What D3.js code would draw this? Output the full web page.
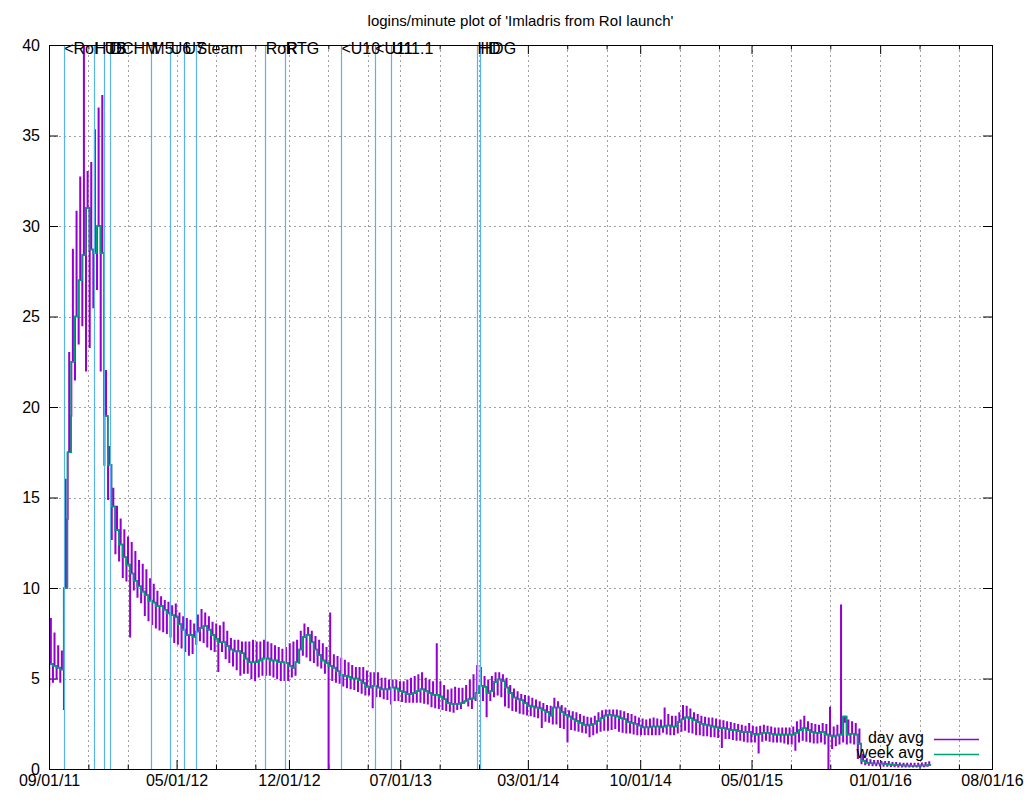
<!DOCTYPE html>
<html>
<head>
<meta charset="utf-8">
<script src="https://cdn.jsdelivr.net/npm/d3@7/dist/d3.min.js"></script>
<style>
  html, body { margin: 0; padding: 0; background: #fff; }
  svg { display: block; font-family: "Liberation Sans", Arial, sans-serif; }
</style>
</head>
<body>
<svg id="chart" width="1024" height="800"></svg>
<script>
// Weekly buckets, counted from the first day of the series
const seriesStart = '2011-09-01';

// week avg (one value per week)
const weekAvg = [
  5.8, 5.7, 5.6, 5.5, 10, 17.5, 22.5, 25, 27, 28.4,
  31, 28.7, 28.5, 30, 28.5, 19.5, 16.8, 14.5, 13.2, 12.4,
  11.7, 11.3, 10.8, 10.4, 10.1, 9.8, 9.6, 9.3, 9.2, 9.0,
  9.0, 8.8, 8.6, 8.5, 8.4, 8.0, 7.7, 7.4, 7.4, 7.3,
  7.6, 7.8, 7.9, 7.7, 7.4, 7.2, 7.0, 7.0, 6.8, 6.6,
  6.5, 6.5, 6.4, 6.1, 5.9, 5.9, 5.9, 6.0, 6.1, 6.1,
  6.0, 6.0, 5.9, 5.9, 5.85, 5.7, 5.6, 5.9, 6.6, 7.3,
  7.4, 7.0, 6.6, 6.3, 6.0, 5.85, 5.7, 5.6, 5.4, 5.2,
  5.15, 5.1, 5.0, 5.0, 4.9, 4.75, 4.55, 4.5, 4.6, 4.5,
  4.4, 4.4, 4.4, 4.5, 4.45, 4.3, 4.25, 4.15, 4.15, 4.2,
  4.3, 4.4, 4.3, 4.2, 4.1, 4.1, 4.0, 3.85, 3.65, 3.6,
  3.6, 3.6, 3.65, 3.75, 3.85, 3.9, 4.2, 4.6, 4.55, 4.2,
  4.3, 4.8, 4.95, 4.85, 4.5, 4.2, 3.95, 3.85, 3.8, 3.65,
  3.5, 3.45, 3.4, 3.35, 3.25, 3.15, 2.95, 3.4, 3.4, 3.15,
  3.0, 2.9, 2.75, 2.65, 2.55, 2.45, 2.4, 2.45, 2.5, 2.65,
  2.8, 2.95, 3.0, 2.95, 2.9, 2.8, 2.75, 2.6, 2.55, 2.5,
  2.4, 2.3, 2.3, 2.3, 2.35, 2.35, 2.3, 2.35, 2.4, 2.35,
  2.35, 2.6, 2.75, 2.85, 2.8, 2.7, 2.6, 2.5, 2.45, 2.4,
  2.35, 2.3, 2.25, 2.25, 2.2, 2.15, 2.15, 2.1, 2.05, 2.05,
  2.05, 1.95, 1.9, 1.95, 2.0, 2.0, 1.95, 1.9, 1.9, 1.9,
  1.9, 1.9, 1.9, 2.0, 2.15, 2.25, 2.15, 2.05, 2.0, 2.0,
  2.05, 1.9, 1.85, 1.8, 1.85, 1.9, 2.9, 1.9, 1.95, 1.9,
  1.4, 0.45, 0.35, 0.32, 0.3, 0.3, 0.3, 0.28, 0.25, 0.24,
  0.22, 0.21, 0.2, 0.19, 0.18, 0.18, 0.18, 0.19, 0.2, 0.22
];

// day avg: highest and lowest daily value seen in each week
const dayHigh = [
  8.3, 7.5, 6.8, 6.5, 16, 23, 28.7, 30.8, 32.7, 41,
  33, 33.5, 35.3, 36.5, 37.2, 22, 17.8, 15.5, 14.5, 13.8,
  13.2, 12.8, 12.5, 12.0, 11.5, 11.3, 11.0, 10.5, 10.2, 9.8,
  9.5, 9.3, 9.2, 9.0, 9.1, 8.6, 8.4, 8.3, 8.2, 8.0,
  8.5, 8.8, 8.6, 8.4, 8.1, 8.0, 7.9, 8.1, 7.6, 7.2,
  7.1, 7.1, 7.0, 7.0, 7.0, 7.1, 7.0, 7.0, 7.1, 7.0,
  6.9, 6.8, 6.7, 6.6, 6.7, 6.9, 7.0, 7.1, 7.6, 8.0,
  7.8, 7.6, 7.3, 7.1, 6.9, 6.7, 8.6, 6.3, 6.2, 6.1,
  6.0, 5.85, 5.7, 5.6, 5.6, 5.6, 5.4, 5.3, 5.3, 5.3,
  5.0, 5.0, 4.9, 4.9, 4.9, 4.8, 4.8, 4.9, 5.0, 5.1,
  5.2, 5.3, 5.0, 4.9, 4.8, 6.9, 4.8, 4.6, 4.35, 4.4,
  4.5, 4.45, 4.45, 4.6, 4.9, 5.2, 5.7, 5.6, 5.1, 4.9,
  5.1, 5.3, 5.3, 5.2, 5.0, 4.6, 4.4, 4.25, 4.1, 4.05,
  4.0, 3.9, 3.8, 3.7, 3.6, 3.5, 3.45, 3.9, 3.7, 3.5,
  3.35, 3.2, 3.15, 3.1, 3.0, 2.9, 2.85, 2.8, 2.9, 3.1,
  3.2, 3.25, 3.25, 3.25, 3.25, 3.2, 3.15, 3.05, 3.0, 2.9,
  2.8, 2.75, 2.7, 2.75, 2.8, 2.75, 2.7, 3.35, 3.0, 2.9,
  2.9, 3.1, 3.5, 3.45, 3.3, 3.1, 3.0, 2.9, 2.85, 2.8,
  2.8, 2.75, 2.7, 2.65, 2.6, 2.55, 2.5, 2.45, 2.4, 2.35,
  2.5, 2.35, 2.3, 2.35, 2.4, 2.35, 2.3, 2.25, 2.25, 2.25,
  2.25, 2.25, 2.3, 2.6, 2.7, 2.9, 2.6, 2.5, 2.45, 2.4,
  2.5, 2.45, 3.4, 2.3, 2.4, 9.05, 2.6, 2.7, 2.6, 2.5,
  2.2, 0.8, 0.55, 0.5, 0.45, 0.45, 0.4, 0.4, 0.4, 0.35,
  0.35, 0.32, 0.3, 0.3, 0.3, 0.3, 0.3, 0.32, 0.35, 0.38
];

const dayLow = [
  4.6, 4.8, 5.0, 4.8, 3.3, 13.8, 19.5, 21.5, 23.5, 24.5,
  22, 23.3, 25.5, 26.5, 22, 16.8, 14.9, 12.7, 11.9, 11.5,
  10.6, 10.4, 7.3, 9.9, 9.5, 9.2, 8.5, 8.2, 8.0, 7.8,
  7.7, 7.6, 7.5, 7.3, 7.0, 6.9, 6.7, 6.5, 6.3, 6.4,
  6.9, 7.1, 7.0, 6.75, 6.6, 6.5, 5.4, 6.5, 6.1, 5.9,
  5.7, 5.5, 5.2, 5.3, 5.3, 5.0, 4.9, 5.1, 5.2, 5.2,
  5.2, 5.1, 5.0, 4.9, 4.9, 4.9, 5.1, 5.2, 5.85, 6.3,
  6.2, 6.0, 5.9, 5.7, 5.6, 5.3, 0, 4.9, 4.8, 4.75,
  4.6, 4.5, 4.45, 4.4, 4.3, 4.2, 4.1, 4.1, 3.4, 4.0,
  4.0, 3.9, 3.85, 3.6, 3.8, 3.8, 3.75, 3.7, 3.7, 3.7,
  3.7, 3.7, 3.65, 3.6, 3.45, 3.4, 3.35, 3.3, 3.25, 3.2,
  3.15, 3.3, 3.35, 3.7, 3.5, 3.35, 3.8, 4.2, 3.8, 2.9,
  3.8, 4.0, 4.1, 4.0, 3.5, 3.4, 3.25, 3.2, 3.1, 3.05,
  3.0, 2.95, 2.9, 2.85, 2.3, 2.65, 2.6, 2.5, 2.5, 2.3,
  2.25, 1.5, 2.2, 2.15, 2.1, 2.05, 2.0, 1.8, 1.9, 2.0,
  2.1, 2.15, 2.15, 2.2, 2.25, 2.1, 2.05, 2.0, 2.0, 1.95,
  1.9, 1.9, 1.9, 1.9, 1.9, 1.9, 1.9, 2.05, 1.95, 1.9,
  1.9, 2.0, 2.1, 2.15, 2.05, 2.0, 1.9, 1.9, 1.85, 1.85,
  1.8, 1.8, 1.75, 1.2, 1.7, 1.7, 1.65, 1.6, 1.6, 1.55,
  1.5, 1.5, 1.5, 0.9, 1.55, 1.6, 1.55, 1.5, 1.5, 1.5,
  1.45, 1.4, 1.4, 1.05, 1.5, 1.6, 1.55, 1.5, 1.45, 1.45,
  1.5, 1.4, 0, 1.15, 1.3, 1.4, 1.5, 1.4, 1.45, 1.4,
  0.6, 0.3, 0.25, 0.22, 0.2, 0.2, 0.18, 0.17, 0.16, 0.15,
  0.14, 0.13, 0.12, 0.12, 0.12, 0.12, 0.12, 0.13, 0.14, 0.16
];

// marked events (vertical lines with a tag at the top)
const eventDates = [
  '2011-09-29', '2011-11-26', '2011-12-15', '2011-12-26', '2012-03-13',
  '2012-04-19', '2012-05-15', '2012-06-07', '2012-10-17', '2012-11-24',
  '2013-03-10', '2013-05-13', '2013-06-14', '2013-11-24', '2013-11-30'
];
const eventLabels = [
  '<RoI', 'HTB', 'U5', 'DCHM', 'M5',
  'U6', 'U7', 'Steam', 'RoR', 'RTG',
  '<U10', '<U11', 'U11.1', 'HD', 'HDG'
];

const xTickDates = [
  '2011-09-01', '2012-05-01', '2012-12-01', '2013-07-01', '2014-03-01',
  '2014-10-01', '2015-05-01', '2016-01-01', '2016-08-01'
];
const yTicks = [0, 5, 10, 15, 20, 25, 30, 35, 40];

const titleText = "logins/minute plot of 'Imladris from RoI launch'";
const seriesNames = ['day avg', 'week avg'];
const seriesColors = ['#9400d3', '#009e73'];

// ---- layout ----
const width = 1024, height = 800;
const margin = { top: 45, right: 32, bottom: 31, left: 49 };
const plotW = width - margin.left - margin.right;
const plotH = height - margin.top - margin.bottom;
const fontSize = '16px';

const parse = d3.utcParse('%Y-%m-%d');
const fmt = d3.utcFormat('%m/%d/%y');
const startDate = parse(seriesStart);
const majorDates = xTickDates.map(parse);

// minor tics: two between each pair of major tics
const minorDates = [];
for (let i = 0; i < majorDates.length - 1; i++) {
    minorDates.push(d3.utcDay.offset(majorDates[i], 75));
    minorDates.push(d3.utcDay.offset(majorDates[i], 150));
}

const svg = d3.select('#chart');

const x = d3.scaleUtc()
    .domain([majorDates[0], majorDates[majorDates.length - 1]])
    .range([0, plotW]);
const y = d3.scaleLinear().domain([0, 40]).range([plotH, 0]);

const g = svg.append('g').attr('transform', `translate(${margin.left},${margin.top})`);

svg.append('defs').append('clipPath').attr('id', 'plot-clip')
    .append('rect').attr('width', plotW).attr('height', plotH);

// Title
svg.append('text')
    .attr('x', margin.left + plotW / 2)
    .attr('y', 26)
    .attr('text-anchor', 'middle')
    .style('font-size', '15px')
    .text(titleText);

// Grid (dashed, behind everything)
const gridStyle = sel => sel.attr('stroke', '#a0a0a0').attr('stroke-width', 1)
    .attr('stroke-dasharray', '2,3').attr('fill', 'none');

g.append('g').selectAll('line')
    .data(majorDates.slice(1, -1).concat(minorDates))
    .enter().append('line')
    .attr('x1', d => Math.round(x(d)) + 0.5).attr('x2', d => Math.round(x(d)) + 0.5)
    .attr('y1', 0).attr('y2', plotH)
    .call(gridStyle);

g.append('g').selectAll('line')
    .data(yTicks.slice(1, -1))
    .enter().append('line')
    .attr('x1', 0).attr('x2', plotW)
    .attr('y1', d => Math.round(y(d)) + 0.5).attr('y2', d => Math.round(y(d)) + 0.5)
    .call(gridStyle);

// Axes (gnuplot-style tics pointing inward, mirrored)
const xAxis = g.append('g')
    .attr('transform', `translate(0,${plotH})`)
    .call(d3.axisBottom(x).tickValues(majorDates).tickFormat(fmt).tickSize(-9).tickPadding(6));

const xAxisTop = g.append('g')
    .call(d3.axisTop(x).tickValues(majorDates).tickFormat('').tickSize(-9));

const xMinor = g.append('g')
    .attr('transform', `translate(0,${plotH})`)
    .call(d3.axisBottom(x).tickValues(minorDates).tickFormat('').tickSize(-4.5));

const xMinorTop = g.append('g')
    .call(d3.axisTop(x).tickValues(minorDates).tickFormat('').tickSize(-4.5));

const yAxis = g.append('g')
    .call(d3.axisLeft(y).tickValues(yTicks).tickSize(-9).tickPadding(9));

const yAxisRight = g.append('g')
    .attr('transform', `translate(${plotW},0)`)
    .call(d3.axisRight(y).tickValues(yTicks).tickFormat('').tickSize(-9));

[xAxis, xAxisTop, xMinor, xMinorTop, yAxis, yAxisRight].forEach(a => {
    a.select('.domain').remove();
    a.selectAll('.tick line').attr('stroke', '#000');
    a.selectAll('.tick text')
        .attr('fill', '#000')
        .style('font-size', fontSize)
        .style('font-family', '"Liberation Sans", Arial, sans-serif');
});

// Series
const plot = g.append('g').attr('clip-path', 'url(#plot-clip)');

// each week: a low day, typical days, a peak day, typical days
const dayPoints = [];
dayLow.forEach((lo, i) => {
    const t0 = d3.utcDay.offset(startDate, 7 * i);
    dayPoints.push({ t: t0, v: lo });
    dayPoints.push({ t: d3.utcDay.offset(t0, 1), v: weekAvg[i] });
    dayPoints.push({ t: d3.utcDay.offset(t0, 3), v: dayHigh[i] });
    dayPoints.push({ t: d3.utcDay.offset(t0, 4), v: weekAvg[i] });
});
dayPoints.push({ t: d3.utcDay.offset(startDate, 7 * dayLow.length), v: weekAvg[weekAvg.length - 1] });

const weekPoints = weekAvg.map((v, i) => ({ t: d3.utcDay.offset(startDate, 7 * i), v }));
weekPoints.push({ t: d3.utcDay.offset(startDate, 7 * weekAvg.length), v: weekAvg[weekAvg.length - 1] });

const stepLine = d3.line()
    .x(d => x(d.t))
    .y(d => y(d.v))
    .curve(d3.curveStepAfter);

plot.append('path')
    .datum(dayPoints)
    .attr('fill', 'none')
    .attr('stroke', seriesColors[0])
    .attr('stroke-width', 1.5)
    .attr('d', stepLine);

plot.append('path')
    .datum(weekPoints)
    .attr('fill', 'none')
    .attr('stroke', seriesColors[1])
    .attr('stroke-width', 1.6)
    .attr('d', stepLine);

// Event markers
const events = eventDates.map((d, i) => ({ t: parse(d), label: eventLabels[i] }));

g.append('g').selectAll('line')
    .data(events)
    .enter().append('line')
    .attr('x1', d => Math.round(x(d.t)) + 0.5).attr('x2', d => Math.round(x(d.t)) + 0.5)
    .attr('y1', 0).attr('y2', plotH)
    .attr('stroke', '#56b4e9')
    .attr('stroke-width', 1.2);

// Border
g.append('rect')
    .attr('x', 0.5).attr('y', 0.5)
    .attr('width', plotW).attr('height', plotH)
    .attr('fill', 'none')
    .attr('stroke', '#000');

g.append('g').selectAll('text')
    .data(events)
    .enter().append('text')
    .attr('x', d => x(d.t) + 0.5)
    .attr('y', 9)
    .style('font-size', fontSize)
    .text(d => d.label);

// Legend
const legend = g.append('g');
seriesNames.forEach((name, i) => {
    const ly = 694 + i * 15;
    legend.append('text')
        .attr('x', 875)
        .attr('y', ly + 4)
        .attr('text-anchor', 'end')
        .style('font-size', fontSize)
        .text(name);
    legend.append('line')
        .attr('x1', 885).attr('x2', 930)
        .attr('y1', ly + 0.5).attr('y2', ly + 0.5)
        .attr('stroke', seriesColors[i])
        .attr('stroke-width', 1.3);
});
</script>
</body>
</html>
